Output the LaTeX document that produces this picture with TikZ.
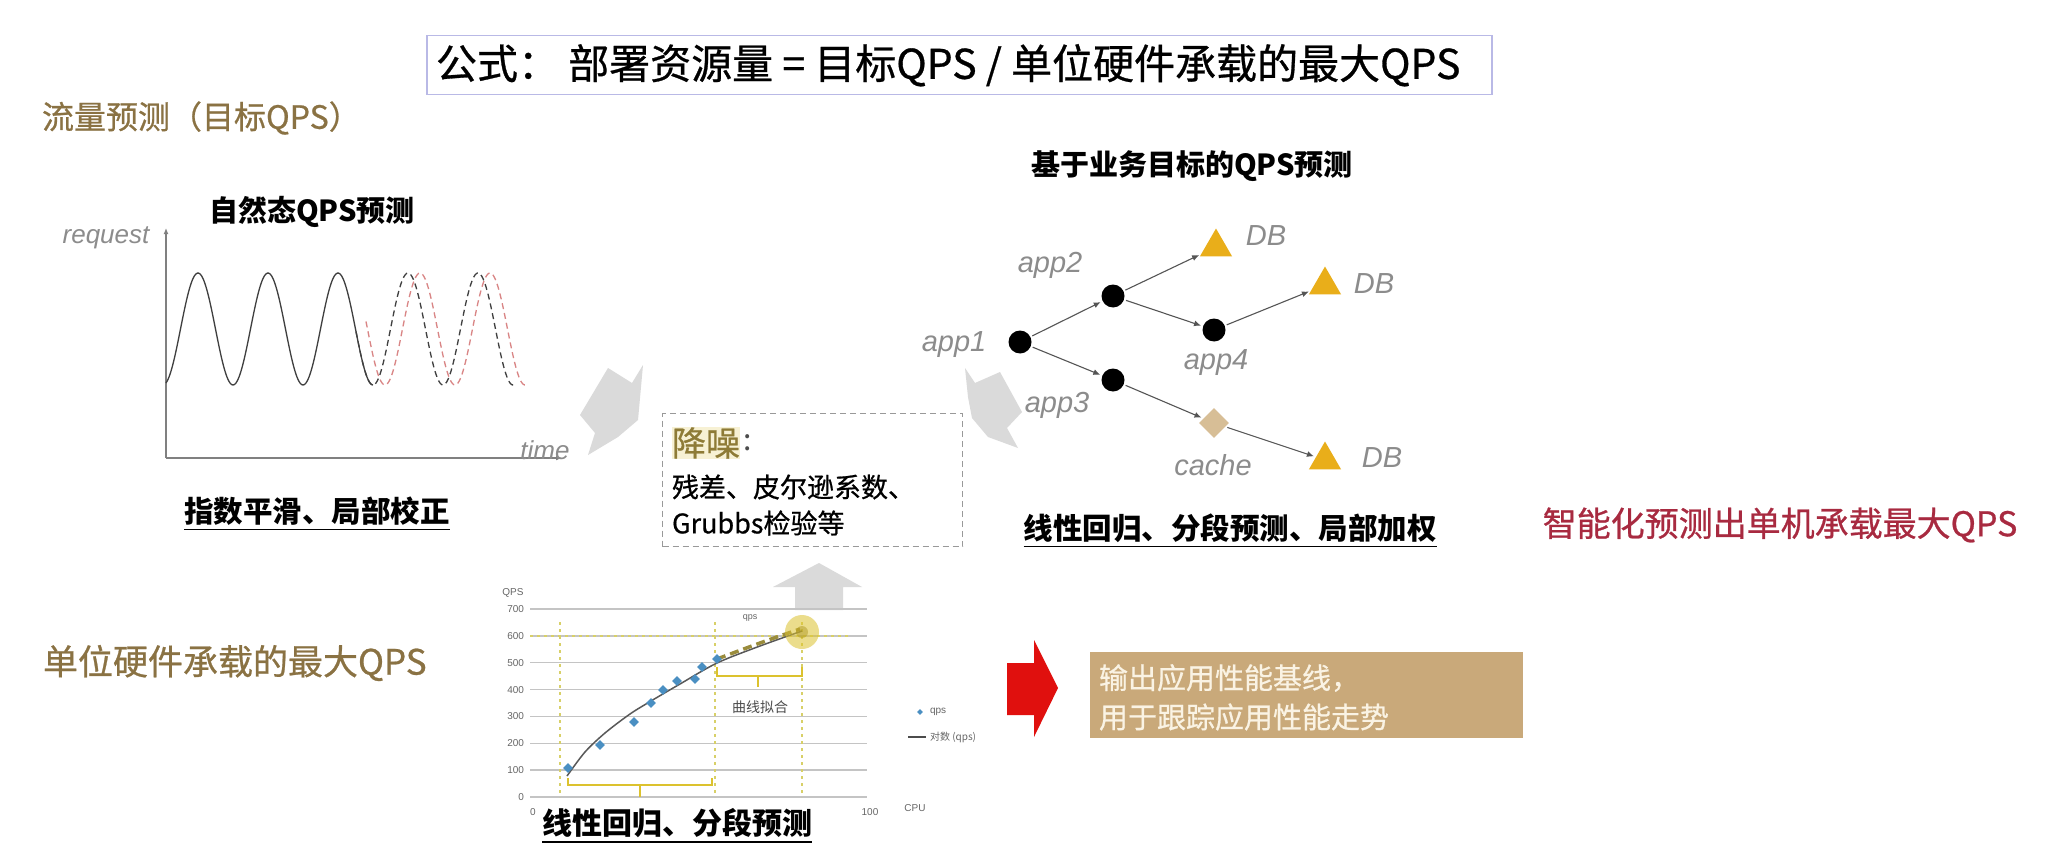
\documentclass[tikz,border=0pt]{standalone}
\usepackage{fontspec}
\setmainfont{Noto Sans CJK SC}
\newfontfamily\med{Noto Sans CJK SC}[FakeBold=0.7]
\newfontfamily\lat{Liberation Sans}
\usetikzlibrary{arrows.meta,shapes.geometric}
\newcommand{\fsz}[1]{\fontsize{#1pt}{#1pt}\selectfont}
\definecolor{brownt}{HTML}{8A7243}
\definecolor{goldtri}{HTML}{E9AE1A}
\definecolor{cachec}{HTML}{D7BE96}
\definecolor{labgray}{HTML}{8C8C8C}
\definecolor{arrgray}{HTML}{DADADA}
\definecolor{tanbox}{HTML}{C9A97A}
\definecolor{tantext}{HTML}{FAF3E4}
\definecolor{redarr}{HTML}{E0100E}
\definecolor{crimson}{HTML}{A82A40}
\definecolor{titleborder}{HTML}{B9B9E6}
\definecolor{olivet}{HTML}{8E7B36}
\definecolor{hl}{HTML}{F7F1D4}
\definecolor{ptblue}{HTML}{4A8FC2}
\definecolor{ylw}{HTML}{DCC22E}
\definecolor{ylwdot}{HTML}{D8D068}
\definecolor{edgec}{HTML}{555555}
\definecolor{axisc}{HTML}{808080}
\definecolor{gridc}{HTML}{C4C4C4}
\definecolor{olivedash}{HTML}{9A8C3C}
\definecolor{reddash}{HTML}{D98585}
\begin{document}
\begin{tikzpicture}[x=1pt,y=-1pt,
  txt/.style={inner sep=0pt, outer sep=0pt},
  lbl/.style={txt, font=\lat\itshape\fsz{29}, text=labgray},
  axlbl/.style={txt, font=\lat\itshape\fsz{26}, text=labgray},
  appn/.style={circle, fill=black, minimum size=23pt, inner sep=0pt},
  dbn/.style={regular polygon, regular polygon sides=3, fill=goldtri, minimum size=37pt, inner sep=0pt},
  cachen/.style={diamond, fill=cachec, minimum size=30pt, inner sep=0pt},
  edge/.style={-{Latex[length=7pt,width=6pt]}, draw=edgec, line width=1.1pt, shorten >=2pt, shorten <=2pt},
  heading/.style={txt, font=\bfseries\fsz{29}},
  method/.style={txt, font=\bfseries\fsz{29.5}},
  ulin/.style={line width=1.6pt},
  ticklbl/.style={txt, font=\lat\fsz{10}, text=black!60},
  garrow/.style={fill=arrgray, draw=none},
  ptn/.style={diamond, fill=ptblue, minimum size=10pt, inner sep=0pt},
  brk/.style={draw=ylw, line width=2pt},
  ydot/.style={draw=ylwdot, line width=1.2pt, dash pattern=on 3pt off 4pt},
  wave/.style={draw=black!75, line width=1.3pt},
]
\useasboundingbox (0,0) rectangle (2056,856);
\fill[white] (0,0) rectangle (2056,856);

% ---------- title ----------
\node[draw=titleborder, line width=1.5pt, minimum width=1065pt, minimum height=59pt, anchor=north west, inner sep=0pt] (title) at (426,35) {};
\node[txt, anchor=west, font=\med\fsz{41}] (titletxt) at ([xshift=10pt]title.west) {公式：\ 部署资源量 = 目标QPS / 单位硬件承载的最大QPS};

% ---------- section headings ----------
\node[txt, text=brownt, font=\med\fsz{32}, anchor=west] (flow) at (42,118) {流量预测（目标QPS）};
\node[txt, text=brownt, font=\med\fsz{35}, anchor=west] (unit) at (43,663) {单位硬件承载的最大QPS};
\node[txt, text=crimson, font=\med\fsz{34}] (smart) at (1780,525) {智能化预测出单机承载最大QPS};

% ---------- natural QPS chart ----------
\node[heading] (natt) at (312,212) {自然态QPS预测};
\coordinate (O) at (166,458);
\coordinate (Ytop) at (166,228);
\coordinate (Xend) at (562,458);
\draw[draw=axisc, line width=1.4pt, -{Latex[length=6pt,width=5pt]}] (O) -- (Ytop);
\draw[draw=axisc, line width=1.4pt, -{Latex[length=6pt,width=5pt]}] (O) -- (Xend);
\node[axlbl] (req) at (106,238) {request};
\node[axlbl] (time) at (545,450) {time};
\draw[wave, domain=166:373, samples=140, smooth] plot (\x,{329-56*cos(5.142857*(\x-198))});
\draw[draw=reddash, line width=1.3pt, dash pattern=on 6pt off 4pt, domain=366:527, samples=120, smooth] plot (\x,{329-56*cos(5.142857*(\x-210))});
\draw[draw=black!75, line width=1.3pt, dash pattern=on 6pt off 4pt, domain=356:515, samples=120, smooth] plot (\x,{329-56*cos(5.142857*(\x-198))});
\node[method] (m1) at (317,511) {指数平滑、局部校正};
\draw[ulin] ([yshift=-4pt]m1.south west) -- ([yshift=-4pt]m1.south east);

% ---------- grey block arrows ----------
\fill[garrow] (608,368) -- (632,383) -- (643,365) -- (638,420) -- (618,437) -- (588,455) -- (595,433) -- (580,415) -- cycle;
\fill[garrow] (965,368) -- (975,383) -- (1000,372) -- (1022,412) -- (1007,428) -- (1018,448) -- (988,437) -- (972,418) -- (968,397) -- cycle;
\fill[garrow] (795,610) -- (795,587) -- (773,587) -- (819,563) -- (862,587) -- (843,587) -- (843,610) -- cycle;

% ---------- noise-reduction box ----------
\node[draw=black!40, line width=1.2pt, dash pattern=on 6pt off 4pt, minimum width=300pt, minimum height=133pt, anchor=north west, inner sep=0pt] (nz) at (662,413) {};
\node[txt, fill=hl, text=olivet, font=\med\fsz{34}, anchor=west] (nz1) at (672,443) {降噪};
\node[txt, font=\fsz{30}, anchor=west, text=black!70] (nzc) at ([xshift=3pt]nz1.east) {:};
\node[txt, font=\med\fsz{27}, anchor=west] (nz2) at (672,487) {残差、皮尔逊系数、};
\node[txt, font=\med\fsz{27}, anchor=west] (nz3) at (672,523) {Grubbs检验等};

% ---------- dependency tree ----------
\node[heading] (treet) at (1192,166) {基于业务目标的QPS预测};
\node[appn] (app1) at (1020,342) {};
\node[appn] (app2) at (1113,296) {};
\node[appn] (app3) at (1113,380) {};
\node[appn] (app4) at (1214,330) {};
\node[dbn] (db1) at (1216,247) {};
\node[dbn] (db2) at (1325,285) {};
\node[dbn] (db3) at (1325,460) {};
\node[cachen] (cache) at (1214,423) {};
\node[lbl] (l1) at (954,345) {app1};
\node[lbl] (l2) at (1050,265) {app2};
\node[lbl] (l3) at (1057,405) {app3};
\node[lbl] (l4) at (1216,363) {app4};
\node[lbl] (lc) at (1213,465) {cache};
\node[lbl] (ld1) at (1266,236) {DB};
\node[lbl] (ld2) at (1374,284) {DB};
\node[lbl] (ld3) at (1382,458) {DB};
\draw[edge] (app1) -- (app2);
\draw[edge] (app1) -- (app3);
\draw[edge] (app2) -- (db1);
\draw[edge] (app2) -- (app4);
\draw[edge] (app4) -- (db2);
\draw[edge] (app3) -- (cache);
\draw[edge] (cache) -- (db3);
\node[method] (m2) at (1230,528) {线性回归、分段预测、局部加权};
\draw[ulin] ([yshift=-4pt]m2.south west) -- ([yshift=-4pt]m2.south east);

% ---------- capacity chart ----------
\foreach \v/\t in {0/0,1/100,2/200,3/300,4/400,5/500,6/600,7/700}{
  \draw[draw=gridc, line width=1.5pt] (530,{797-26.86*\v}) -- (867,{797-26.86*\v});
  \node[ticklbl, anchor=east] at (524,{797-26.86*\v}) {\t};
}
\node[ticklbl] (qpsax) at (513,593) {QPS};
\node[ticklbl] (x0) at (533,812) {0};
\node[ticklbl] (x100) at (870,812) {100};
\node[ticklbl] (cpu) at (915,808) {CPU};
\draw[ydot] (530,636) -- (850,636);
\foreach \xx in {560,715,802}{\draw[ydot] (\xx,622) -- (\xx,797);}
\draw[draw=black!65, line width=1.5pt] plot[smooth] coordinates {(567,776) (585,752) (605,733) (630,714) (651,701) (680,684) (717,663) (760,646) (802,631)};
\draw[draw=olivedash, line width=3.5pt, dash pattern=on 9pt off 5pt] plot[smooth] coordinates {(717,659) (760,643) (800,629)};
\foreach \px/\py in {568/768,600/745,634/722,651/703,663/690,677/681,695/679,702/667,717/659}{
  \node[ptn] at (\px,\py) {};
}
\fill[ylw, opacity=0.55] (802,632) circle (17pt);
\fill[ylw!80!black, opacity=0.5] (802,632) circle (6pt);
\node[ticklbl, font=\lat\fsz{9}] (qpslab) at (750,618) {qps};
\draw[brk] (568,778) -- (568,785) -- (712,785) -- (712,778);
\draw[brk] (640,785) -- (640,797);
\draw[brk] (717,667) -- (717,676) -- (802,676) -- (802,667);
\draw[brk] (758,676) -- (758,687);
\node[txt, font=\fsz{14}, text=black!70] (fit) at (760,707) {曲线拟合};
\node[ptn, minimum size=6pt] (legpt) at (920,712) {};
\node[ticklbl, anchor=west] (legq) at (930,712) {qps};
\coordinate (legl1) at (908,737);
\coordinate (legl2) at (926,737);
\draw[draw=black!70, line width=1.2pt] (legl1) -- (legl2);
\node[txt, font=\fsz{10}, text=black!60, anchor=west] (legf) at (930,737) {对数 (qps)};
\node[method, font=\bfseries\fsz{30}] (m3) at (677,823) {线性回归、分段预测};
\draw[ulin] ([yshift=-4pt]m3.south west) -- ([yshift=-4pt]m3.south east);

% ---------- output ----------
\fill[redarr] (1007,663) -- (1034,663) -- (1034,640) -- (1058,688) -- (1034,737) -- (1034,715) -- (1007,715) -- cycle;
\node[fill=tanbox, minimum width=433pt, minimum height=86pt, anchor=north west, inner sep=0pt] (tan) at (1090,652) {};
\node[txt, font=\med\fsz{29}, text=tantext, anchor=west] (out1) at (1099,678) {输出应用性能基线，};
\node[txt, font=\med\fsz{29}, text=tantext, anchor=west] (out2) at (1099,717) {用于跟踪应用性能走势};
\end{tikzpicture}
\end{document}
